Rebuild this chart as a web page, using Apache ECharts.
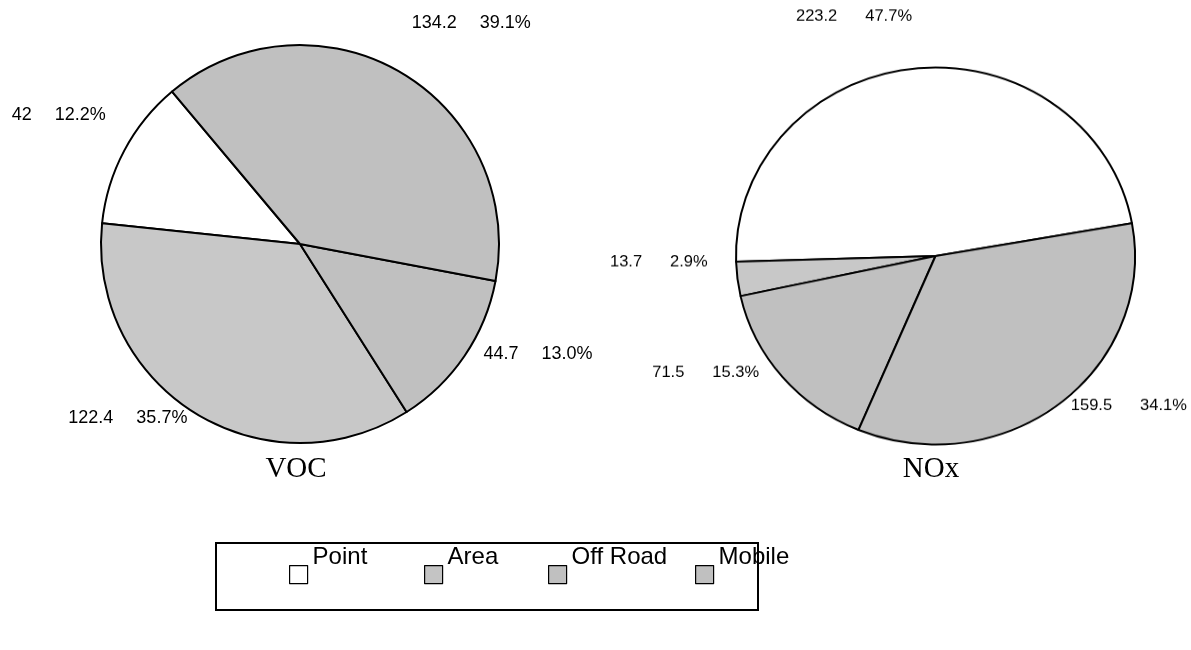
<!DOCTYPE html>
<html>
<head>
<meta charset="utf-8">
<script src="https://cdn.jsdelivr.net/npm/echarts/dist/echarts.min.js"></script>
<style>
  html, body { margin: 0; padding: 0; background: #ffffff; }
  #wrap { position: relative; width: 1191px; height: 650px; overflow: hidden; }
  #main { position: absolute; left: 0; top: 0; width: 1191px; height: 650px; }
  /* the NOx pie is drawn slightly flattened; its canvas extends above the page so top labels fit */
  #nox { position: absolute; left: 0; top: -60px; width: 1191px; height: 770px;
         transform: scaleY(0.945); transform-origin: 935.5px 316px; pointer-events: none; }
</style>
</head>
<body>
<div id="wrap">
  <div id="main"></div>
  <div id="nox"></div>
</div>
<script>
// Emission sources and totals per pollutant
const categories = ['Point', 'Area', 'Off Road', 'Mobile'];
const vocValues = [42, 122.4, 44.7, 134.2];
const noxValues = [223.2, 13.7, 71.5, 159.5];
const pollutantNames = ['VOC', 'NOx'];

// Styling
const sliceColors = ['#ffffff', '#c8c8c8', '#c0c0c0', '#c0c0c0'];
const legendColors = ['#ffffff', '#c4c4c4', '#c0c0c0', '#c0c0c0'];
const SANS = 'Arial, "Liberation Sans", sans-serif';
const SERIF = '"Times New Roman", "Liberation Serif", serif';

// per-slice label offsets (px) relative to the default outside placement
const vocLabelShift = [[13, -22], [13, -21], [-11, -19], [-9, -23]];
const noxLabelShift = [[5, -25], [5, -22], [5, -23], [-13, -21]];

function pct(values, v) {
  const sum = values.reduce((a, b) => a + b, 0);
  return (Math.round(v / sum * 1000) / 10).toFixed(1);
}

function pieSeries(name, values, center, radius, startAngle, fontSize, gap, shifts) {
  return {
    name: name,
    type: 'pie',
    center: center,
    radius: radius,
    startAngle: startAngle,
    clockwise: false,
    avoidLabelOverlap: false,
    silent: true,
    animation: false,
    data: categories.map((c, i) => ({
      name: c,
      value: values[i],
      itemStyle: { color: sliceColors[i] }
    })),
    itemStyle: { borderColor: '#000000', borderWidth: 2 },
    emphasis: { disabled: true },
    label: {
      show: true,
      position: 'outside',
      color: '#000000',
      fontFamily: SANS,
      fontSize: fontSize,
      formatter: p => '{v|' + p.value + '}{p|' + pct(values, p.value) + '%}',
      rich: {
        v: { fontFamily: SANS, fontSize: fontSize, color: '#000', padding: [0, gap, 0, 0] },
        p: { fontFamily: SANS, fontSize: fontSize, color: '#000' }
      }
    },
    labelLine: { show: false, length: 30, length2: 0 },
    labelLayout: params => {
      const s = shifts[params.dataIndex];
      return { dx: s[0], dy: s[1] };
    }
  };
}

// Legend swatch: an 18px square sitting in the lower part of a taller icon box,
// so the entry text rides above the swatch
const swatchIcon = 'path://M0,0 M0,34 L18,34 L18,52 L0,52 Z';

// one legend component per entry
const legendX = [289, 424, 548, 695];
const legends = categories.map((c, i) => ({
  data: [c],
  left: legendX[i],
  top: 531,
  padding: 0,
  orient: 'horizontal',
  icon: swatchIcon,
  itemWidth: 18,
  itemHeight: 52,
  itemGap: 0,
  selectedMode: false,
  itemStyle: { color: legendColors[i], borderColor: '#000000', borderWidth: 1.2 },
  textStyle: { fontFamily: SANS, fontSize: 24, color: '#000000' }
}));

const main = echarts.init(document.getElementById('main'), null, { renderer: 'canvas' });
main.setOption({
  backgroundColor: '#ffffff',
  animation: false,
  legend: legends,
  graphic: [
    { type: 'rect', shape: { x: 216, y: 543, width: 542, height: 67 },
      style: { fill: 'none', stroke: '#000000', lineWidth: 2 }, z: 0 },
    { type: 'text', x: 296, y: 469,
      style: { text: pollutantNames[0], font: '29px ' + SERIF, fill: '#000', align: 'center', verticalAlign: 'middle' } },
    { type: 'text', x: 931, y: 469,
      style: { text: pollutantNames[1], font: '29px ' + SERIF, fill: '#000', align: 'center', verticalAlign: 'middle' } }
  ],
  series: [
    pieSeries(pollutantNames[0], vocValues, [300, 244], 199, 130, 18, 23, vocLabelShift)
  ]
});

const nox = echarts.init(document.getElementById('nox'), null, { renderer: 'canvas' });
nox.setOption({
  animation: false,
  series: [
    pieSeries(pollutantNames[1], noxValues, [935.5, 316], 199.5, 10, 16.5, 28, noxLabelShift)
  ]
});
</script>
</body>
</html>
